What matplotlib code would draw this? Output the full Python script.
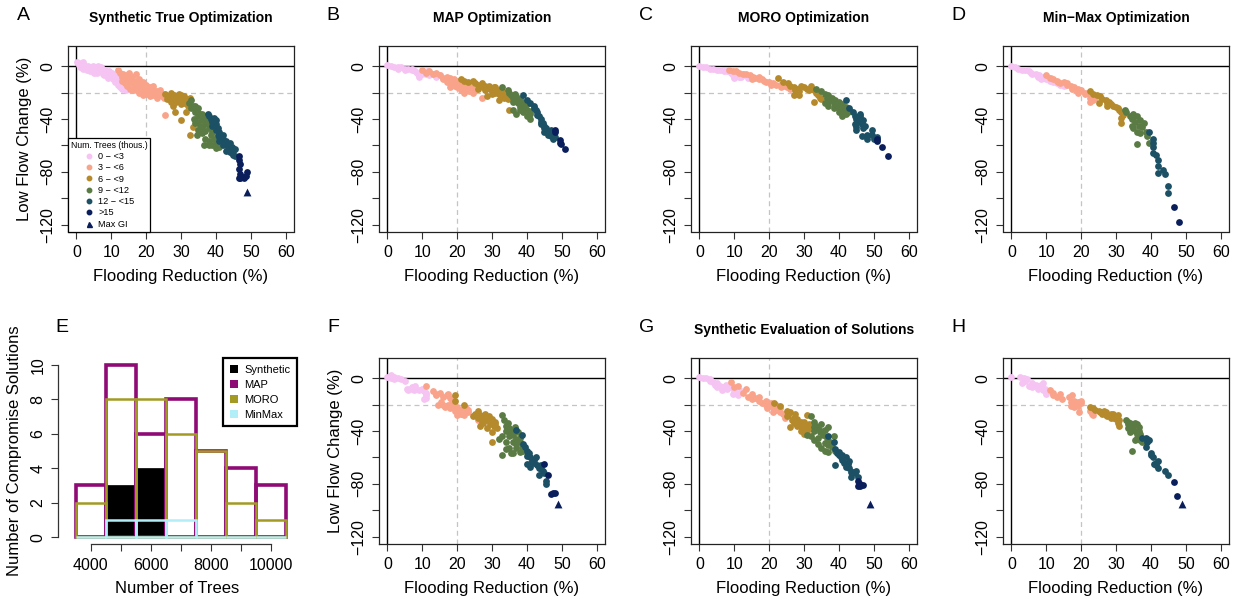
import matplotlib
matplotlib.use('Agg')
import matplotlib.pyplot as plt
from matplotlib.lines import Line2D
from matplotlib.patches import Patch

plt.rcParams['font.family'] = ['Liberation Sans', 'DejaVu Sans']

# ---------------- data ----------------
CLASS_LABELS = ['0 \u2212 <3', '3 \u2212 <6', '6 \u2212 <9', '9 \u2212 <12', '12 \u2212 <15', '>15']
COLORS = ['#F5C4F2', '#F9A38A', '#B58A2D', '#5B7B44', '#1C5064', '#0A1E5C']

XTICKS = [0, 10, 20, 30, 40, 50, 60]
YTICKS = [-120, -100, -80, -60, -40, -20, 0]
YTICKLABELS = ['\u2212120', '', '\u221280', '', '\u221240', '', '0']

# Panel A: Synthetic True Optimization
A_c0 = [(0.2,3),(0.8,1),(1.2,2),(1.8,0),(2.3,1),(2.8,-1),(3.3,0),(3.8,-2),(4.3,-1),(4.8,0),(5.3,-2),(5.8,-1),
        (6.3,0),(6.8,-3),(7.3,-2),(7.8,-4),(8.3,-3),(8.8,-5),(9.3,-4),(9.8,-6),(10.3,-5),(10.8,-8),(11.3,-7),
        (11.8,-10),(12.3,-9),(12.8,-12),(13.3,-11),(13.8,-15),(14.2,-18),(10.5,-10),(9.0,-8),(7.5,-6),(12.0,-14),
        (1,-1),(2,-2),(3,-3),(4,-4),(5,-5),(6,-5),(7,-1),(8,-7),(9,-9),(10,-8),(11,-12),(12.5,-16),(13,-17),
        (6,-2),(4,-3),(2,3)]
A_c1 = [(11.8,-3),(12.5,-5),(13,-8),(13.5,-6),(14,-9),(14.5,-7),(15,-10),(15.5,-12),(16,-8),(16.5,-14),(17,-11),
        (17.5,-16),(18,-13),(18.5,-17),(19,-15),(19.5,-19),(20,-14),(20.5,-18),(21,-16),(21.5,-20),(22,-17),
        (22.5,-21),(23,-19),(23.5,-22),(24,-20),(24.5,-23),(25,-21),(25.5,-22),(16,-18),(18,-20),(20,-21),
        (14,-13),(25.5,-37),(13,-11),(14.5,-15),(15,-5),(16,-12),(17,-18),(17,-6),(18,-10),(19,-22),(20,-17),
        (21,-23),(22,-15),(22,-22),(23,-24),(24,-18),(25,-24),(19,-12),(15.5,-17),(21,-19)]
A_c2 = [(25.5,-21),(26.5,-23),(27,-20),(27.5,-25),(28,-22),(28.5,-27),(29,-24),(29.5,-21),(30,-26),(30.5,-23),
        (31,-28),(31.5,-25),(32,-27),(32.5,-24),(28.4,-35),(29.9,-41),(31.3,-35),(33.3,-46),(32.7,-52),(27.8,-30),
        (26,-25),(27,-27),(28,-24),(29,-26),(30,-22),(31,-23),(32,-30),(30,-29)]
A_c3 = [(32.3,-28),(33,-32),(33.5,-30),(34,-35),(34.5,-33),(35,-38),(35.5,-36),(36,-41),(36.5,-39),(37,-44),
        (37.5,-42),(38,-47),(38.5,-45),(39,-50),(34,-43),(35,-48),(36,-51),(37,-55),(38,-57),(39,-60),(40,-62),
        (36.5,-60),(35.5,-45),(34.5,-52),(33.8,-40),(39.5,-55),(38.5,-52),(33,-26),(34,-30),(35,-32),(36,-36),
        (37,-38),(38,-42),(39,-46),(35,-42),(36,-46),(37,-49),(40,-58),(41,-61),(38,-60)]
A_c4 = [(37.6,-36),(38.5,-40),(39.5,-39),(40,-44),(40.5,-47),(41,-50),(41.5,-53),(42,-55),(42.5,-58),(43,-57),
        (43.5,-60),(44,-62),(44.5,-61),(45,-64),(45.5,-63),(45,-67),(44,-65),(42,-60),(41,-57),(43,-64),
        (40.5,-52),(39,-45),(38,-38),(39,-42),(40,-48),(41,-54),(42,-52),(43,-60),(44,-58),(44.5,-66),
        (45.5,-68),(40,-41)]
A_c5 = [(46.5,-68),(46.5,-71),(46.8,-74),(46.5,-78),(46.8,-82),(47.5,-84),(48,-85),(48.5,-83),(48.8,-80),
        (47,-85),(46.6,-85)]
A_tri = (48.8, -95)

# Panel B: MAP Optimization
B_c0 = [(0,1),(1,0),(2,-1),(3,-2),(4,-1),(5,-2),(6,-2),(7,-3),(8,-4),(8.5,-5),(9,-6),(9,-8),(10,-5),(11,-6),
        (12,-7),(13,-6),(14,-8),(15,-7),(11.5,-4),(3,-1),(5,-3),(7,-2),(9,-7),(10,-6)]
B_c1 = [(10,-3),(11,-5),(12,-4),(13,-6),(14,-5),(15,-7),(16,-9),(17,-8),(17.5,-11),(18,-9),(18.5,-12),(19,-10),
        (20,-11),(20.5,-15),(21,-12),(21.5,-14),(22,-13),(22.5,-17),(23,-15),(23.5,-19),(24,-16),(24.5,-20),
        (18,-16),(19.5,-15),(21,-18),(25,-18),(27,-24),(22,-20),(16,-10),(17,-12),(19,-13),(20,-16),(23,-14)]
B_c2 = [(21,-10),(22,-11),(23,-12),(24.5,-11),(25,-13),(26,-14),(27,-13),(27.5,-16),(28,-18),(29,-15),(29.5,-17),
        (30,-19),(30.5,-16),(31,-20),(31.5,-18),(32,-21),(32.5,-23),(33,-19),(33.5,-24),(34,-22),(34.5,-25),
        (35,-33),(28.5,-23),(32,-26),(36,-25),(26,-17),(28,-15),(30,-21),(31,-16),(33,-22)]
B_c3 = [(33,-16),(34.5,-18),(35,-20),(35.5,-22),(36,-24),(36.5,-21),(37,-26),(37.5,-28),(38,-25),(38.5,-30),
        (39,-27),(39.5,-32),(40,-29),(40.5,-34),(41,-36),(40,-38),(41,-40),(37,-36),(36,-33),(39,-35),(38,-31),
        (36,-27),(37,-23),(38,-33),(39,-29),(40,-33),(41,-35)]
B_c4 = [(39,-22),(40,-26),(41,-28),(42,-30),(42.5,-33),(43,-35),(43.5,-38),(44,-40),(44.5,-43),(45,-45),
        (45.5,-47),(46,-49),(46.5,-51),(47,-53),(47.5,-55),(44,-42),(45,-50),(46,-52),(47.5,-50),(48,-54),(42,-32),
        (43,-37),(44,-44),(45,-47),(46,-50),(47,-48)]
B_c5 = [(48,-48),(48,-50),(49.5,-56),(49.5,-58),(49.8,-59),(51,-63)]

# Panel C: MORO Optimization
C_c0 = [(0,0),(1,-1),(2,-1),(3,-2),(4,-2),(5,-3),(6,-3),(7,-4),(8,-4),(9,-5),(9.5,-7),(10,-6),(11,-7),
        (11.5,-8),(12,-8),(13,-7),(14,-9),(15,-9),(10,-9),(12.5,-6)]
C_c1 = [(8.5,-3),(9.5,-4),(10.5,-4),(11.5,-5),(12.5,-6),(13.5,-6),(14.5,-7),(15.5,-8),(16,-9),(17,-10),(18,-10),
        (18.5,-11),(19,-12),(20,-12),(21,-13),(22,-14),(23,-14),(24,-15),(25,-16),(26,-17),(17,-8),(20.5,-14),
        (23.5,-16),(15,-10)]
C_c2 = [(22.5,-9),(24,-12),(25.5,-13),(26,-15),(27,-16),(27.5,-18),(28,-17),(28.5,-19),(29,-15),(30,-16),
        (31,-17),(31.5,-18),(32,-15),(33,-18),(33.5,-20),(34,-22),(34.5,-24),(35,-25),(33,-27),(27,-22),
        (28.5,-22),(34,-20)]
C_c3 = [(33.5,-17),(35,-19),(36,-21),(36.5,-24),(37,-22),(37.5,-26),(38,-24),(38.5,-28),(39,-26),(39.5,-30),
        (40,-27),(40.5,-32),(41,-29),(41.5,-34),(42,-31),(42.5,-35),(43,-33),(37,-30),(38.5,-32),(40,-35),
        (41,-38),(36,-28),(37,-27),(39,-29),(40,-31),(41,-33),(42,-36)]
C_c4 = [(42,-26),(43,-32),(44,-35),(44.5,-38),(45,-40),(45.5,-42),(46,-38),(46.5,-44),(47,-41),(47.5,-45),
        (45,-48),(46.5,-53),(48,-55),(49.5,-48),(49.5,-52),(50,-55),(51,-54),(46,-36),(44.5,-44),(45,-46),
        (47,-47),(48,-52)]
C_c5 = [(51,-55),(51,-56.5),(52.5,-61),(54,-68)]

# Panel D: Min-Max Optimization
D_c0 = [(0,0),(1,-1),(2,-2),(3,-3),(4,-3),(5,-4),(5.5,-5),(6,-6),(7,-6),(7.5,-8),(8,-7),(9,-8),(9.5,-9),
        (10,-10),(11,-11),(12,-12),(13,-13),(14,-14),(15,-15),(8.5,-10),(11.5,-9)]
D_c1 = [(10,-7),(11,-9),(12,-10),(13,-11),(13.5,-12),(14,-13),(15,-12),(16,-14),(17,-15),(17.5,-17),(18,-16),
        (18.5,-18),(19,-17),(19.5,-19),(20,-18),(21,-20),(22,-20),(22.5,-24),(23,-22),(23.5,-26),(24,-24),
        (22.5,-27),(16,-13),(19,-20),(21,-21)]
D_c2 = [(22.5,-19),(23.5,-21),(24.5,-22),(25.5,-23),(26,-25),(27,-26),(27.5,-28),(28,-27),(28.5,-29),(29,-30),
        (30,-31),(30.5,-32),(31,-33),(31.5,-35),(32,-37),(31.5,-39),(31.5,-43),(25,-28),(27.5,-30)]
D_c3 = [(32.5,-33),(33,-35),(34,-38),(34.5,-40),(35,-36),(35.5,-42),(36,-38),(36.5,-45),(37,-41),(37.5,-46),
        (38,-43),(38.5,-50),(39,-53),(39.5,-58),(35,-47),(36,-50),(37,-51),(36,-59),(34.5,-45)]
D_c4 = [(39.5,-50),(40.5,-55),(40.5,-58),(40.5,-61),(40.5,-66),(41.5,-67),(42,-71),(42,-76),(42,-81),
        (43.5,-79),(44,-82),(45,-91),(45,-96)]
D_c5 = [(46.5,-107),(48.2,-118)]

# Panel F
F_c0 = [(0,1),(1,2),(2,1),(3,0),(4,-1),(5,-2),(5.5,-8),(6,-9),(7,-7),(7.5,-9),(8,-8),(10,-8),(10.5,-10),
        (11,-13),(10.5,-16),(11,-15),(6.5,-8),(9,-9),(1,0),(2,-1),(8,-6),(11,-11)]
F_c1 = [(11,-6),(13,-10),(14,-12),(15,-11),(14.5,-20),(15.5,-18),(16,-14),(17,-13),(17.5,-12),(16.5,-22),
        (17.5,-20),(18,-23),(18.5,-18),(19,-21),(19.5,-25),(20,-22),(20.5,-26),(21,-24),(21.5,-27),(22,-25),
        (22.5,-23),(23,-26),(21,-27),(19,-17),(26,-32),(20,-28),(14,-13),(16,-20),(18,-15),(22,-28),(23,-24)]
F_c2 = [(19.5,-13),(19.5,-17),(22,-20),(24.5,-29),(26,-25),(26.5,-28),(27,-30),(27.5,-34),(28,-27),(28.5,-32),
        (29,-29),(29.5,-35),(30,-31),(30.5,-36),(31,-33),(31.5,-38),(30,-48),(26.5,-36),(28.5,-38),(30,-41),
        (25,-27),(27,-33),(29,-31),(31,-35),(26,-30)]
F_c3 = [(33,-28),(33.5,-32),(34,-36),(34.5,-34),(35,-38),(35.5,-40),(36,-43),(36.5,-37),(37,-46),(37.5,-41),
        (38,-48),(38.5,-52),(39,-55),(33,-44),(34,-48),(35,-53),(36,-57),(33,-58),(35.5,-57),(32,-46),
        (37,-50),(38,-56),(34,-40),(35,-44),(36,-48),(37,-53),(36,-39),(38,-45),(34,-54)]
F_c4 = [(37,-39),(38.5,-43),(39,-50),(39.5,-52),(40,-55),(40.5,-57),(41,-65),(41.5,-63),(42,-62),(42.5,-60),
        (43,-66),(43.5,-68),(44,-66),(44.5,-70),(45,-72),(45.5,-78),(45.5,-80),(43.5,-73),(40,-65),
        (40,-59),(41,-60),(42,-64),(44,-69),(41,-67)]
F_c5 = [(45,-65),(46,-73),(47.5,-87),(48,-87),(47,-88)]
F_tri = (48.8, -95)

# Panel G: Synthetic Evaluation of Solutions
G_c0 = [(0,1),(1,0),(2,0),(3,-1),(4,-3),(4.5,-5),(5,-4),(6,-6),(7,-7),(7.5,-5),(8,-8),(9,-7),(10,-9),
        (10.5,-11),(11,-13),(12,-10),(6.5,-9),(9.5,-12),(3,-2),(5,-7),(8,-6)]
G_c1 = [(9,-3),(10,-7),(11,-6),(12.5,-11),(13.5,-8),(14,-14),(15,-12),(16,-15),(17,-17),(18,-19),(19,-20),
        (19.5,-23),(20,-21),(21,-22),(22,-24),(23,-26),(24,-27),(24.5,-30),(21,-26),(20.5,-19),
        (15,-16),(17,-14),(19,-17),(22,-20),(23,-23)]
G_c2 = [(21.5,-19),(23,-21),(25,-25),(25.5,-28),(26,-26),(26.5,-32),(27,-30),(27.5,-27),(28,-31),(28.5,-34),
        (29,-33),(29.5,-38),(30,-42),(30.5,-36),(31,-28),(31.5,-35),(32,-38),(26,-37),(29,-40),
        (25,-29),(27,-34),(28,-36),(30,-33),(31,-40)]
G_c3 = [(32,-29),(33,-33),(33.5,-36),(34,-38),(34.5,-41),(35,-35),(35.5,-43),(36,-39),(36.5,-45),(37,-37),
        (37.5,-48),(38,-52),(38.5,-44),(39,-55),(32,-44),(33,-47),(34,-50),(35,-53),(36,-55),(37,-56),(31,-43),
        (33,-40),(34,-45),(35,-40),(36,-49),(37,-51),(38,-49),(33,-37)]
G_c4 = [(37,-44),(38.5,-48),(39,-54),(39.5,-57),(40,-56),(40.5,-60),(41,-62),(41.5,-64),(42,-67),(42.5,-65),
        (43,-63),(43.5,-71),(44.5,-72),(45,-70),(45.5,-75),(39,-66),(43.5,-75),
        (40,-58),(41,-58),(42,-60),(43,-68),(44,-71)]
G_c5 = [(45.5,-78),(46,-80),(46,-82),(47,-81),(45.5,-82)]
G_tri = (49, -95)

# Panel H
H_c0 = [(0,1),(2.5,1),(3,-4),(3.5,0),(4.5,-1),(5,-6),(6,-4),(7,-5),(8,-7),(8.5,-5),(9,-4),(9.5,-8),(10,-10),
        (10,-12),(7.5,-8),(11,-10),(4,-2),(6,-7),(9,-9)]
H_c1 = [(11,-9),(12,-11),(13,-14),(14,-12),(14.5,-16),(16.5,-14),(17.5,-13),(18,-17),(18.5,-20),(19,-18),
        (19.5,-19),(20,-17),(18,-22),(19.5,-26),(22.5,-25),(23,-27),(23.5,-28),(17,-21),
        (12,-13),(17,-18),(19,-21),(20,-19)]
H_c2 = [(22.5,-22),(23.5,-23),(25,-25),(26,-27),(27,-26),(27.5,-29),(28,-28),(29,-27),(29.5,-30),(30.5,-28),
        (31,-32),(31,-36),(30.5,-34),(26.5,-25),(28.5,-30),(24,-24),(25.5,-26),(27,-28),(28.5,-27),(30,-31),
        (29,-29)]
H_c3 = [(33,-32),(33.5,-35),(34,-34),(34.5,-38),(35,-36),(35.5,-40),(36,-35),(36.5,-37),(37,-42),(36,-45),
        (35.5,-47),(37.5,-48),(38.5,-48),(34.5,-55),(33.5,-38),(34,-41),(33.5,-33),(34.5,-36),(35,-39),
        (35.5,-34),(36,-42),(36.5,-40),(37,-47),(34,-38)]
H_c4 = [(37.5,-45),(38.5,-45),(39,-48),(39.5,-47),(38.5,-52),(40,-58),(40.5,-60),(41.5,-66),(42,-63),(42,-68),
        (41.5,-64),(44,-70),(45,-73),(39,-46),(40,-57),(41,-65)]
H_c5 = [(46.5,-79),(47.5,-89)]
H_tri = (48.8, -95)

# Panel E histogram
HIST_CENTERS = [4000, 5000, 6000, 7000, 8000, 9000, 10000]
SYN_COUNTS = [0, 3, 4, 0, 0, 0, 0]
MAP_COUNTS = [3, 10, 6, 8, 5, 4, 3]
MORO_COUNTS = [2, 8, 8, 6, 5, 2, 1]
MINMAX_COUNTS = [0, 1, 1, 1, 0, 0, 0]
HIST_COLORS = {'Synthetic': '#000000', 'MAP': '#8E0A74', 'MORO': '#A39A24', 'MinMax': '#B2EEF8'}

# ---------------- figure ----------------
W, H = 1237, 605
fig = plt.figure(figsize=(W / 100, H / 100), dpi=100)


def px_axes(left, top, right, bottom):
    return fig.add_axes([left / W, 1 - bottom / H, (right - left) / W, (bottom - top) / H])


def style_ticks(ax):
    ax.tick_params(axis='both', direction='out', length=5, width=0.8, labelsize=11.5, color='#333333')
    ax.tick_params(axis='x', pad=5)
    ax.tick_params(axis='y', pad=4)
    for lab in ax.get_yticklabels():
        lab.set_rotation(90)
        lab.set_va('center')


def scatter_panel(ax, groups, tri, ylabel=False):
    ax.set_xlim(-2.4, 62.4)
    ax.set_ylim(-125.2, 15.2)
    ax.axhline(-20, color='#c4c4c4', lw=0.9, ls=(0, (4, 3)), zorder=1)
    ax.axvline(20, color='#c4c4c4', lw=0.9, ls=(0, (4, 3)), zorder=1)
    ax.axhline(0, color='black', lw=1.0, zorder=2)
    ax.axvline(0, color='black', lw=1.0, zorder=2)
    for pts, col in zip(groups, COLORS):
        if pts:
            ax.scatter([p[0] for p in pts], [p[1] for p in pts], s=24, color=col, linewidths=0, zorder=3)
    if tri is not None:
        ax.scatter([tri[0]], [tri[1]], marker='^', s=32, color=COLORS[5], linewidths=0, zorder=4)
    ax.set_xticks(XTICKS)
    ax.set_yticks(YTICKS)
    ax.set_yticklabels(YTICKLABELS)
    style_ticks(ax)
    for sp in ax.spines.values():
        sp.set_linewidth(0.9)
        sp.set_color('#222222')
    ax.set_xlabel('Flooding Reduction (%)', fontsize=12, labelpad=6)
    if ylabel:
        ax.set_ylabel('Low Flow Change (%)', fontsize=12, labelpad=6)


COL_LEFT = [68, 379, 691, 1003]
AX_W = 226
ROW_TOP = [46, 358]
AX_H = 185.5

panels = {
    'A': (A_c0, A_c1, A_c2, A_c3, A_c4, A_c5, A_tri, 0, 0, 'Synthetic True Optimization', True),
    'B': (B_c0, B_c1, B_c2, B_c3, B_c4, B_c5, None, 0, 1, 'MAP Optimization', False),
    'C': (C_c0, C_c1, C_c2, C_c3, C_c4, C_c5, None, 0, 2, 'MORO Optimization', False),
    'D': (D_c0, D_c1, D_c2, D_c3, D_c4, D_c5, None, 0, 3, 'Min\u2212Max Optimization', False),
    'F': (F_c0, F_c1, F_c2, F_c3, F_c4, F_c5, F_tri, 1, 1, '', True),
    'G': (G_c0, G_c1, G_c2, G_c3, G_c4, G_c5, G_tri, 1, 2, 'Synthetic Evaluation of Solutions', False),
    'H': (H_c0, H_c1, H_c2, H_c3, H_c4, H_c5, H_tri, 1, 3, '', False),
}

letter_pos = {'A': (23, 16), 'B': (333, 16), 'C': (646, 16), 'D': (958, 16),
              'E': (62, 327), 'F': (333, 327), 'G': (647, 327), 'H': (958, 327)}

for key, p in panels.items():
    groups = p[:6]
    tri, r, c, title, ylab = p[6], p[7], p[8], p[9], p[10]
    left = COL_LEFT[c]
    top = ROW_TOP[r]
    ax = px_axes(left, top, left + AX_W, top + AX_H)
    scatter_panel(ax, groups, tri, ylabel=ylab)
    if title:
        fig.text((left + AX_W / 2) / W, 1 - (top - 28) / H, title, ha='center', va='center',
                 fontsize=10, fontweight='bold')
    if key == 'A':
        handles = [Line2D([], [], marker='o', ls='', color=col, markersize=3.2) for col in COLORS]
        handles.append(Line2D([], [], marker='^', ls='', color=COLORS[5], markersize=3.6))
        leg = ax.legend(handles, CLASS_LABELS + ['Max GI'], title='Num. Trees (thous.)',
                        loc='lower left', bbox_to_anchor=(0, 0), borderaxespad=0, fontsize=6.6,
                        title_fontsize=6.2, handlelength=1.2, handletextpad=0.4, labelspacing=0.25,
                        borderpad=0.3, fancybox=False, framealpha=1, edgecolor='black')
        leg.get_frame().set_linewidth(0.9)
        leg.set_zorder(5)

# Histogram panel E
axE = px_axes(58, 358, 297, 544)
axE.set_xlim(2910, 10877)
axE.set_ylim(-0.4, 10.4)
axE.bar(HIST_CENTERS, SYN_COUNTS, width=1000, color=HIST_COLORS['Synthetic'],
        edgecolor=HIST_COLORS['Synthetic'], linewidth=0.5, zorder=2)
axE.bar(HIST_CENTERS, MAP_COUNTS, width=1000, fill=False, edgecolor=HIST_COLORS['MAP'], linewidth=2.6, zorder=3)
axE.bar(HIST_CENTERS, MORO_COUNTS, width=1000, fill=False, edgecolor=HIST_COLORS['MORO'], linewidth=1.8, zorder=4)
axE.bar(HIST_CENTERS, MINMAX_COUNTS, width=1000, fill=False, edgecolor=HIST_COLORS['MinMax'], linewidth=1.8,
        zorder=5)
for s in ['top', 'right']:
    axE.spines[s].set_visible(False)
axE.spines['left'].set_bounds(0, 10)
axE.spines['bottom'].set_bounds(4000, 10000)
for s in ['left', 'bottom']:
    axE.spines[s].set_linewidth(0.9)
    axE.spines[s].set_color('#333333')
axE.set_xticks(HIST_CENTERS)
axE.set_xticklabels(['4000', '', '6000', '', '8000', '', '10000'])
axE.set_yticks([0, 2, 4, 6, 8, 10])
style_ticks(axE)
axE.set_xlabel('Number of Trees', fontsize=12, labelpad=6)
axE.set_ylabel('Number of Compromise Solutions', fontsize=12, labelpad=6)
hh = [Patch(facecolor=HIST_COLORS[k], edgecolor='none') for k in ['Synthetic', 'MAP', 'MORO', 'MinMax']]
legE = axE.legend(hh, ['Synthetic', 'MAP', 'MORO', 'MinMax'], loc='upper right', bbox_to_anchor=(1, 1),
                  borderaxespad=0, fontsize=8, handlelength=0.7, handleheight=0.7, handletextpad=0.6,
                  labelspacing=0.45, borderpad=0.6, fancybox=False, framealpha=1, edgecolor='black')
legE.get_frame().set_linewidth(1.6)
legE.set_zorder(6)

for k, (x, y) in letter_pos.items():
    fig.text(x / W, 1 - y / H, k, ha='center', va='center', fontsize=14)

fig.savefig('out.png', dpi=100)
